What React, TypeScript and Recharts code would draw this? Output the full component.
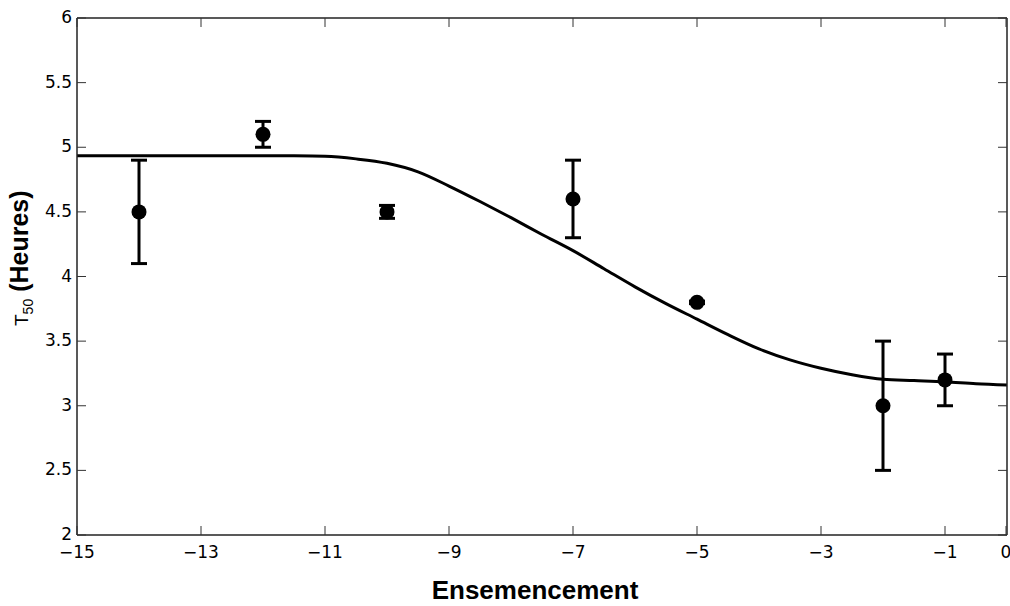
import { ComposedChart, ErrorBar, Line, Scatter, XAxis, YAxis } from "recharts";

// fitted curve, read every 0.5
const curveX = [
  -15, -14.5, -14, -13.5, -13, -12.5, -12, -11.5, -11, -10.5, -10, -9.5, -9, -8.5, -8, -7.5,
  -7, -6.5, -6, -5.5, -5, -4.5, -4, -3.5, -3, -2.5, -2, -1.5, -1, -0.5, 0,
];
const curveY = [
  4.935, 4.935, 4.935, 4.935, 4.935, 4.935, 4.935, 4.934, 4.93, 4.91, 4.876, 4.81, 4.7, 4.58,
  4.455, 4.325, 4.2, 4.06, 3.92, 3.79, 3.67, 3.55, 3.44, 3.355, 3.29, 3.24, 3.205, 3.195, 3.185,
  3.17, 3.16,
];

// measured points
const pointX = [-14, -12, -10, -7, -5, -2, -1];
const pointY = [4.5, 5.1, 4.5, 4.6, 3.8, 3.0, 3.2];
const pointErr = [0.4, 0.1, 0.05, 0.3, 0.01, 0.5, 0.2];

const xTicks = [-15, -13, -11, -9, -7, -5, -3, -1, 0];
const yTicks = [2, 2.5, 3, 3.5, 4, 4.5, 5, 5.5, 6];

const curve = curveX.map((x, i) => ({ x, y: curveY[i] }));
const points = pointX.map((x, i) => ({ x, y: pointY[i], err: pointErr[i] }));

const tickFont = "'DejaVu Sans', sans-serif";
const labelFont = "'Liberation Sans', Arial, sans-serif";
const frame = "#222";

const fmt = (v: number) => (v < 0 ? "\u2212" + Math.abs(v) : String(v));

function BottomTick({ x, y, payload }: any) {
  return (
    <g>
      <line x1={x} y1={y} x2={x} y2={y - 9} stroke="#333" strokeWidth={1} />
      <text x={x} y={y + 23} textAnchor="middle" fontSize={17} fontFamily={tickFont} fill="#000">
        {fmt(payload.value)}
      </text>
    </g>
  );
}

function LeftTick({ x, y, payload }: any) {
  return (
    <g>
      <line x1={x} y1={y} x2={x + 9} y2={y} stroke="#333" strokeWidth={1} />
      <text x={x - 5} y={y + 5} textAnchor="end" fontSize={17} fontFamily={tickFont} fill="#000">
        {payload.value}
      </text>
    </g>
  );
}

function TopTick({ x, y }: any) {
  return <line x1={x} y1={y} x2={x} y2={y + 9} stroke="#333" strokeWidth={1} />;
}

function RightTick({ x, y }: any) {
  return <line x1={x} y1={y} x2={x - 9} y2={y} stroke="#333" strokeWidth={1} />;
}

function XLabel({ viewBox }: any) {
  const cx = viewBox.x + viewBox.width / 2 - 7;
  return (
    <text x={cx} y={599} textAnchor="middle" fontSize={26} fontWeight="bold" fontFamily={labelFont} fill="#000">
      Ensemencement
    </text>
  );
}

function YLabel() {
  return (
    <text transform="translate(28, 326) rotate(-90)" fontFamily={labelFont} fill="#000">
      <tspan fontSize={19}>T</tspan>
      <tspan fontSize={14} dy={5}>50</tspan>
      <tspan fontSize={25} fontWeight="bold" dy={-5}>
        {"  (Heures)"}
      </tspan>
    </text>
  );
}

export default function App() {
  return (
    <div style={{ position: "absolute", left: 0, top: 0, background: "#fff" }}>
      <ComposedChart width={1010} height={606} margin={{ top: 17, right: 2, left: 0, bottom: 0 }}>
        <XAxis
          dataKey="x"
          type="number"
          domain={[-15, 0]}
          ticks={xTicks}
          allowDataOverflow
          height={71}
          tickSize={0}
          tickMargin={0}
          tick={<BottomTick />}
          axisLine={{ stroke: frame, strokeWidth: 1.5 }}
          label={<XLabel />}
        />
        <XAxis
          xAxisId="top"
          orientation="top"
          dataKey="x"
          type="number"
          domain={[-15, 0]}
          ticks={xTicks}
          allowDataOverflow
          height={1}
          tickSize={0}
          tickMargin={0}
          tick={<TopTick />}
          axisLine={{ stroke: frame, strokeWidth: 1.5 }}
        />
        <YAxis
          type="number"
          domain={[2, 6]}
          ticks={yTicks}
          allowDataOverflow
          width={77}
          tickSize={0}
          tickMargin={0}
          tick={<LeftTick />}
          axisLine={{ stroke: frame, strokeWidth: 1.5 }}
          label={<YLabel />}
        />
        <YAxis
          yAxisId="right"
          orientation="right"
          type="number"
          domain={[2, 6]}
          ticks={yTicks}
          allowDataOverflow
          width={1}
          tickSize={0}
          tickMargin={0}
          tick={<RightTick />}
          axisLine={{ stroke: frame, strokeWidth: 1.5 }}
        />
        {/* invisible series so the frame axes get drawn */}
        <Line
          data={curve}
          dataKey="y"
          xAxisId="top"
          yAxisId="right"
          stroke="none"
          dot={false}
          activeDot={false}
          isAnimationActive={false}
        />
        <Line
          data={curve}
          dataKey="y"
          type="monotone"
          stroke="#000"
          strokeWidth={3}
          dot={false}
          activeDot={false}
          isAnimationActive={false}
        />
        <Scatter
          data={points}
          dataKey="y"
          fill="#000"
          isAnimationActive={false}
          shape={(p: any) => <circle cx={p.cx} cy={p.cy} r={7.5} fill="#000" />}
        >
          <ErrorBar dataKey="err" direction="y" width={8} strokeWidth={3} stroke="#000" isAnimationActive={false} />
        </Scatter>
      </ComposedChart>
    </div>
  );
}
